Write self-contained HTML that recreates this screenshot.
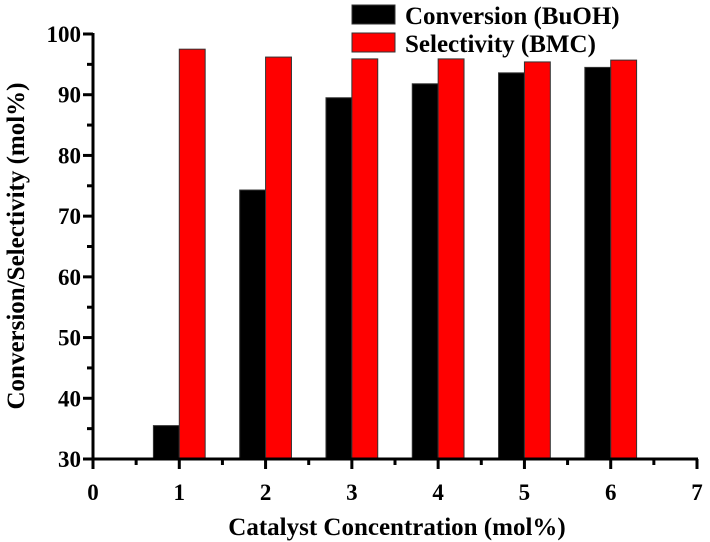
<!DOCTYPE html>
<html><head><meta charset="utf-8"><style>
body{margin:0;background:#fff;}
svg{display:block;font-family:"Liberation Serif",serif;font-weight:bold;}
</style></head><body>
<svg id="chart" width="710" height="542" viewBox="0 0 710 542" xmlns="http://www.w3.org/2000/svg">
<g id="bars"></g>
<g id="axes"></g>
<g>
<rect x="352" y="5" width="43" height="19" fill="#000" stroke="#333"/>
<text x="405" y="24" font-size="25">Conversion (BuOH)</text>
<rect x="352" y="33" width="43" height="19" fill="#ff0000" stroke="#333"/>
<text x="405" y="52" font-size="25">Selectivity (BMC)</text>
</g>
<text x="397" y="535" font-size="25" text-anchor="middle">Catalyst Concentration (mol%)</text>
<text transform="translate(24,246) rotate(-90)" font-size="25" text-anchor="middle">Conversion/Selectivity (mol%)</text>
</svg>
<script>
const categories=[1,2,3,4,5,6];
const conversion=[35.5,74.3,89.5,91.8,93.6,94.5];
const selectivity=[97.5,96.2,95.9,95.9,95.4,95.7];
const xTicks=[0,1,2,3,4,5,6,7];
const yTicks=[30,40,50,60,70,80,90,100];
const NS="http://www.w3.org/2000/svg";
const X0=93,X1=697,Y0=459,Y1=34;
const xs=v=>X0+(v-0)/(7-0)*(X1-X0);
const ys=v=>Y0-(v-30)/(100-30)*(Y0-Y1);
function mk(t,a,p){const e=document.createElementNS(NS,t);for(const k in a)e.setAttribute(k,a[k]);p.appendChild(e);return e;}
const bars=document.getElementById('bars'),axes=document.getElementById('axes');
const bw=0.3;
categories.forEach((c,i)=>{
 let r=mk('rect',{x:xs(c-bw),y:ys(conversion[i]),width:xs(c)-xs(c-bw),height:Y0-ys(conversion[i]),fill:'#000',stroke:'#333','stroke-width':1},bars);
 
 
 let s=mk('rect',{x:xs(c),y:ys(selectivity[i]),width:xs(c+bw)-xs(c),height:Y0-ys(selectivity[i]),fill:'#ff0000',stroke:'#333','stroke-width':1},bars);
 
 
});
let xa=mk('line',{x1:X0,y1:Y0,x2:X1+1,y2:Y0,stroke:'#000','stroke-width':3},axes);


let ya=mk('line',{x1:X0,y1:Y0+1,x2:X0,y2:Y1-1,stroke:'#000','stroke-width':3},axes);


xTicks.forEach(t=>{
 mk('line',{x1:xs(t),y1:Y0,x2:xs(t),y2:Y0+10,stroke:'#000','stroke-width':3},axes);
 if(t<7)mk('line',{x1:xs(t+0.5),y1:Y0,x2:xs(t+0.5),y2:Y0+6,stroke:'#000','stroke-width':3},axes);
 let l=mk('text',{x:xs(t),y:Y0+41,'font-size':23,'text-anchor':'middle'},axes);
 l.textContent=t;
 
 
});
yTicks.forEach(t=>{
 mk('line',{x1:X0-10,y1:ys(t),x2:X0,y2:ys(t),stroke:'#000','stroke-width':3},axes);
 if(t<100)mk('line',{x1:X0-6,y1:ys(t+5),x2:X0,y2:ys(t+5),stroke:'#000','stroke-width':3},axes);
 let l=mk('text',{x:X0-12,y:ys(t)+8,'font-size':23,'text-anchor':'end'},axes);
 l.textContent=t;
 
 
});
</script>
</body></html>
